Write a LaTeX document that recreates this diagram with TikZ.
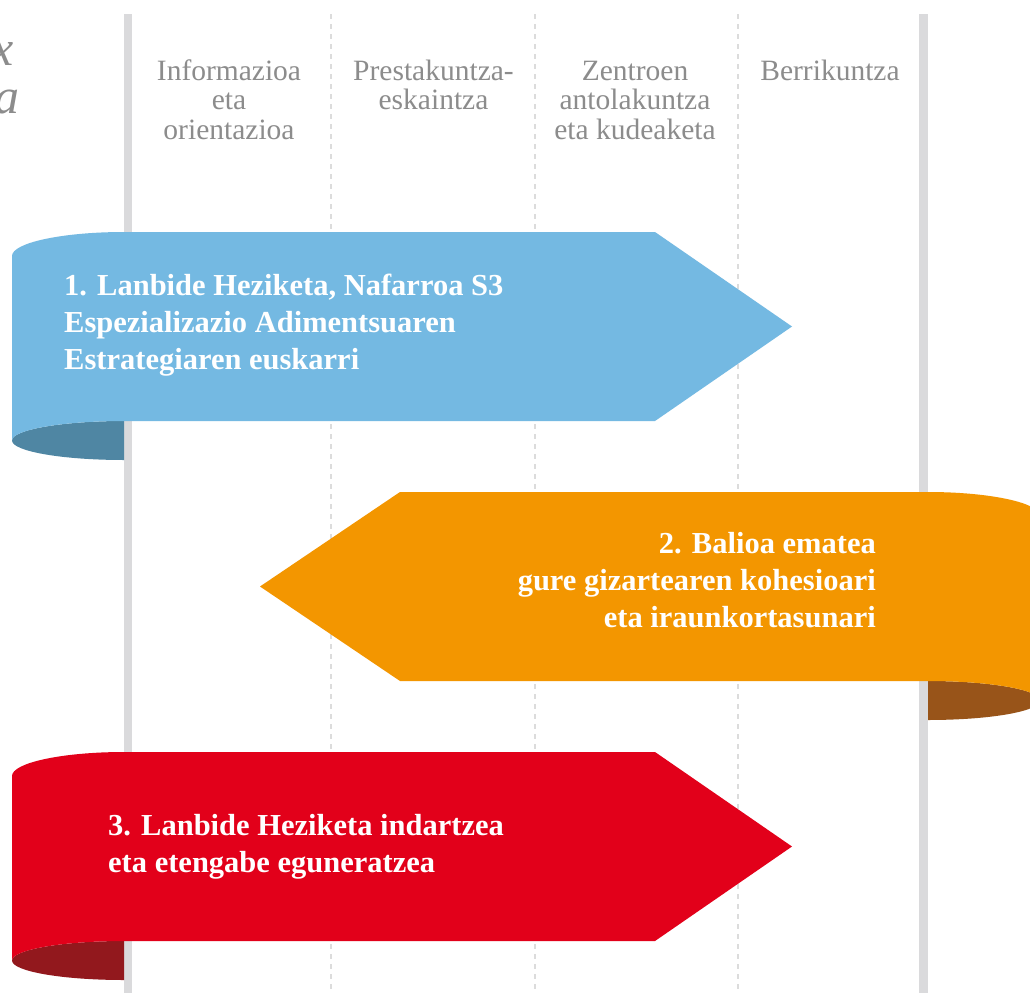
\documentclass[tikz,border=0pt]{standalone}
\usepackage{fontspec}
\setmainfont{Liberation Serif}
\definecolor{rbblue}{HTML}{74B9E2}
\definecolor{rbbluedark}{HTML}{4F86A3}
\definecolor{rborange}{HTML}{F39600}
\definecolor{rborangedark}{HTML}{985419}
\definecolor{rbred}{HTML}{E2001A}
\definecolor{rbreddark}{HTML}{92181D}
\definecolor{gridgray}{HTML}{DADADC}
\definecolor{dashgray}{HTML}{DCDCDC}
\definecolor{headgray}{HTML}{8C8C8C}
\tikzset{
  solidline/.style={draw=gridgray, line width=8.5pt},
  dashline/.style={draw=dashgray, line width=1.6pt, dash pattern=on 5pt off 5pt},
  header/.style={text=headgray, align=center, inner sep=0pt, anchor=base,
    font=\fontsize{29.5}{29.5}\selectfont},
  ribbontext/.style={text=white, inner sep=0pt,
    font=\fontsize{30.5}{37}\selectfont\bfseries},
  cornertext/.style={text=headgray, inner sep=0pt, anchor=base east,
    font=\fontsize{50}{50}\selectfont\itshape}
}
\begin{document}
\begin{tikzpicture}[x=1pt,y=-1pt]
\clip (0,0) rectangle (1030,993);
\fill[white] (0,0) rectangle (1030,993);

% grid lines
\draw[solidline] (128,14) -- (128,993);
\draw[solidline] (923.5,14) -- (923.5,993);
\draw[dashline] (331,14) -- (331,993);
\draw[dashline] (535,14) -- (535,993);
\draw[dashline] (738,14) -- (738,993);

% cut-off corner text
\node[cornertext] (c1) at (14,65) {x};
\node[cornertext] (c2) at (20,113) {a};

% headers (anchor = baseline of last line)
\node[header] (h1) at (229,139) {Informazioa\\eta\\orientazioa};
\node[header] (h2) at (433.5,109.5) {Prestakuntza-\\eskaintza};
\node[header] (h3) at (635,139) {Zentroen\\antolakuntza\\eta kudeaketa};
\node[header] (h4) at (830,80) {Berrikuntza};

% ribbon 1
\fill[rbbluedark] (124,421) .. controls (62.2,421) and (12,429.7) .. (12,440.5)
  .. controls (12,451.3) and (62.2,460) .. (124,460) -- cycle;
\fill[rbblue] (12,256) .. controls (12,242.8) and (62.2,232) .. (124,232)
  -- (655,232) -- (792,326.5) -- (655,421) -- (124,421)
  .. controls (62.2,421) and (12,429.7) .. (12,440.5) -- cycle;

% ribbon 2
\fill[rborangedark] (928,681) .. controls (989.8,681) and (1040,689.7) .. (1040,700.5)
  .. controls (1040,711.3) and (989.8,720) .. (928,720) -- cycle;
\fill[rborange] (1040,516) .. controls (1040,502.8) and (989.8,492) .. (928,492)
  -- (400,492) -- (260,586.5) -- (400,681) -- (928,681)
  .. controls (989.8,681) and (1040,689.7) .. (1040,700.5) -- cycle;

% ribbon 3
\fill[rbreddark] (124,941) .. controls (62.2,941) and (12,949.7) .. (12,960.5)
  .. controls (12,971.3) and (62.2,980) .. (124,980) -- cycle;
\fill[rbred] (12,776) .. controls (12,762.8) and (62.2,752) .. (124,752)
  -- (655,752) -- (792,846.5) -- (655,941) -- (124,941)
  .. controls (62.2,941) and (12,949.7) .. (12,960.5) -- cycle;

% ribbon texts (anchor = baseline of last line)
\node[ribbontext, align=left, anchor=base west] (t1) at (64,369)
  {1. Lanbide Heziketa, Nafarroa S3\\Espezializazio Adimentsuaren\\Estrategiaren euskarri};
\node[ribbontext, align=right, anchor=base east] (t2) at (876,627)
  {2. Balioa ematea\\gure gizartearen kohesioari\\eta iraunkortasunari};
\node[ribbontext, align=left, anchor=base west] (t3) at (108,872)
  {3. Lanbide Heziketa indartzea\\eta etengabe eguneratzea};
\end{tikzpicture}
\end{document}
